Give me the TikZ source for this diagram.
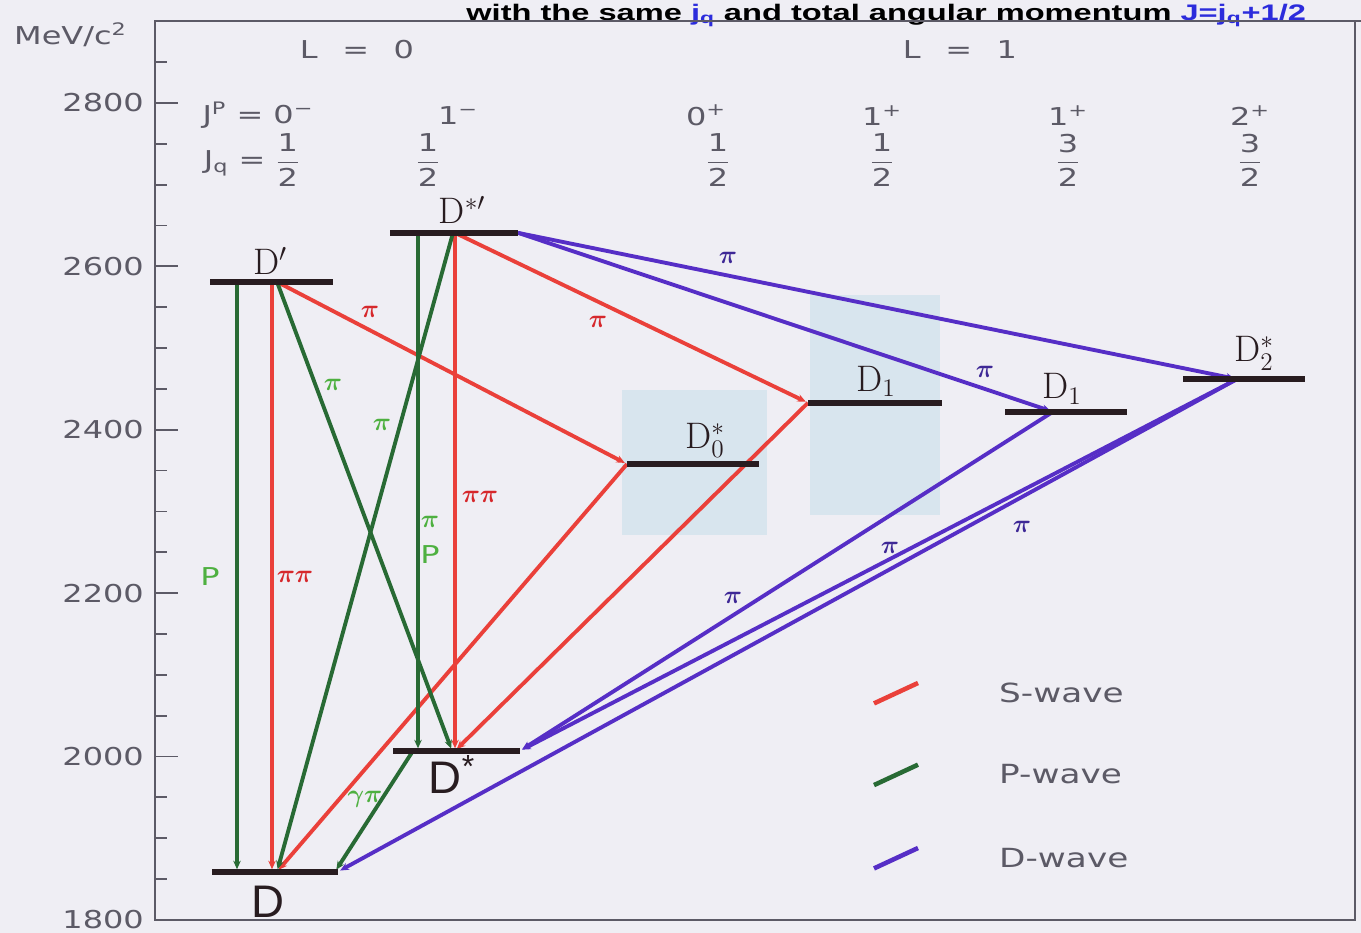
\documentclass[tikz,border=0pt]{standalone}
\usepackage{amsmath}
\usepackage{fontspec}
\usepackage{tikz}
\usetikzlibrary{arrows.meta,positioning,calc}
\newfontfamily\plotfont[FakeStretch=1.3]{DejaVu Sans}
\newfontfamily\titlefont{Liberation Sans}
\newfontfamily\headfont[FakeStretch=1.45]{Liberation Sans}
\definecolor{paper}{RGB}{239,238,244}
\definecolor{swave}{RGB}{234,64,58}
\definecolor{pwave}{RGB}{40,106,52}
\definecolor{dwave}{RGB}{86,46,198}
\definecolor{plab}{RGB}{78,176,64}
\definecolor{slab}{RGB}{214,40,44}
\definecolor{dlab}{RGB}{62,40,150}
\definecolor{bar}{RGB}{40,28,32}
\definecolor{axisgray}{RGB}{92,90,102}
\definecolor{band}{RGB}{216,229,238}
\definecolor{titleblue}{RGB}{44,44,220}
\newcommand{\hfrac}[2]{$\dfrac{\text{#1}}{\text{#2}}$}

\begin{document}
\begin{tikzpicture}[x=0.02cm,y=0.01634cm,
  lvl/.style={draw=bar,line width=3.4pt},
  trans/.style={line width=2.2pt,shorten >=1.4pt,-{Stealth[length=1.7mm,width=1.5mm]}},
  swv/.style={trans,draw=swave},
  pwv/.style={trans,draw=pwave},
  dwv/.style={trans,draw=dwave},
  lbl/.style={font=\plotfont\fontsize{14}{16}\selectfont,text=axisgray},
  pilab/.style={font=\fontsize{14}{14}\selectfont\boldmath},
  lvname/.style={font=\fontsize{21}{21}\selectfont,text=bar},
  sansname/.style={font=\titlefont\fontsize{26}{26}\selectfont,text=bar}]
\clip (0,1784.09) rectangle (1361,2926.07);
\fill[paper] (0,1784.09) rectangle (1361,2926.07);
\fill[band] (622,2271) rectangle (767,2449);
\fill[band] (810,2296) rectangle (940,2565);

\node[anchor=base west,inner sep=0pt,font=\headfont\bfseries\fontsize{12.8}{13}\selectfont] (title) at (466,2901.5)
  {with the same \textcolor{titleblue}{j\textsubscript{q}} and total angular momentum \textcolor{titleblue}{J=j\textsubscript{q}+1/2}};

\draw[axisgray,line width=1.2pt] (1361,2900)--(155,2900)--(155,1800)--(1355,1800)--(1355,2900);
\foreach \m in {1850,1900,...,2850} \draw[axisgray,line width=1pt] (155,\m)--(167,\m);
\foreach \m in {1800,2000,...,2800}{
  \draw[axisgray,line width=1pt] (155,\m)--(178,\m);
  \node[lbl,anchor=east] (tick\m) at (150,\m) {\m};
}
\node[lbl,anchor=west] (unit) at (8,2883) {MeV/c\textsuperscript{2}};

\node[lbl] (L0) at (357,2865) {L\hspace{14pt}=\hspace{14pt}0};
\node[lbl] (L1) at (960,2865) {L\hspace{14pt}=\hspace{14pt}1};
\node[lbl] (jp0) at (258,2785) {J\textsuperscript{P} = 0\textsuperscript{−}};
\node[lbl] (jq0) at (252,2730) {J\textsubscript{q} = \hfrac{1}{2}};
\foreach \x/\xq/\j/\p/\n in {458/428/1/−/1,706/718/0/+/1,882/882/1/+/1,1068/1068/1/+/3,1250/1250/2/+/3}{
  \node[lbl] (jp\x) at (\x,2785) {\j\textsuperscript{\p}};
  \node[lbl] (jq\x) at (\xq,2730) {\hfrac{\n}{2}};
}

\coordinate (Dp-a) at (237,2581);
\coordinate (Dp-b) at (272,2581);
\coordinate (Dp-c) at (277,2581);
\coordinate (Dsp-a) at (418,2641);
\coordinate (Dsp-b) at (453,2641);
\coordinate (Dsp-c) at (455,2641);
\coordinate (Dsp-r) at (518,2641);
\coordinate (Ds-a) at (418,2007);
\coordinate (Ds-b) at (452,2007);
\coordinate (Ds-c) at (455,2007);
\coordinate (Ds-d) at (413,2007);
\coordinate (Ds-r) at (520,2007);
\coordinate (D-a) at (237,1859);
\coordinate (D-b) at (272,1859);
\coordinate (D-c) at (277,1859);
\coordinate (D-d) at (335,1859);
\coordinate (D-r) at (338,1859);
\coordinate (Dz-l) at (627,2358);
\coordinate (Da-l) at (808,2433);
\coordinate (Db-m) at (1053,2422);
\coordinate (Dt-m) at (1237,2462);

\draw[dwv] (Dsp-r)--(Dt-m);
\draw[dwv] (Dsp-r)--(Db-m);
\draw[dwv] (Db-m)--(Ds-r);
\draw[dwv] (Dt-m)--(Ds-r);
\draw[dwv] (Dt-m)--(D-r);
\draw[swv] (Dp-b)--(D-b);
\draw[swv] (Dp-c)--(Dz-l);
\draw[swv] (Dsp-c)--(Ds-c);
\draw[swv] (Dsp-c)--(Da-l);
\draw[swv] (Dz-l)--(D-c);
\draw[swv] (Da-l)--(Ds-c);
\draw[pwv] (Dp-a)--(D-a);
\draw[pwv] (Dp-c)--(Ds-b);
\draw[pwv] (Dsp-b)--(D-c);
\draw[pwv] (Dsp-a)--(Ds-a);
\draw[pwv] (Ds-d)--(D-d);

\draw[lvl] (212,1859)--(338,1859);
\draw[lvl] (393,2007)--(520,2007);
\draw[lvl] (210,2581)--(333,2581);
\draw[lvl] (390,2641)--(518,2641);
\draw[lvl] (627,2358)--(759,2358);
\draw[lvl] (808,2433)--(942,2433);
\draw[lvl] (1005,2422)--(1127,2422);
\draw[lvl] (1183,2462)--(1305,2462);

\node[lvname] (nDp) at (270,2607) {D$^\prime$};
\node[lvname] (nDsp) at (462,2669) {D$^{*\prime}$};
\node[lvname] (nDz) at (705,2387) {D$_0^*$};
\node[lvname] (nDa) at (876,2459) {D$_1$};
\node[lvname] (nDb) at (1062,2450) {D$_1$};
\node[lvname] (nDt) at (1254,2493) {D$_2^*$};
\node[sansname] (nD) at (268,1822) {D};
\node[sansname] (nDs) at (452,1978) {D\textsuperscript{*}};

\node[pilab,text=slab] (piS1) at (370,2544) {$\pi$};
\node[pilab,text=slab] (piS2) at (598,2532) {$\pi$};
\node[pilab,text=slab] (piS3) at (295,2220) {$\pi\pi$};
\node[pilab,text=slab] (piS4) at (480,2318) {$\pi\pi$};
\node[pilab,text=plab] (piP1) at (333,2455) {$\pi$};
\node[pilab,text=plab] (piP2) at (382,2406) {$\pi$};
\node[pilab,text=plab] (piP3) at (430,2287) {$\pi$};
\node[lbl,text=plab] (pwP1) at (430,2247) {P};
\node[lbl,text=plab] (pwP2) at (210,2220) {P};
\node[pilab,text=plab] (piP4) at (365,1947) {$\gamma\pi$};
\node[pilab,text=dlab] (piD1) at (728,2610) {$\pi$};
\node[pilab,text=dlab] (piD2) at (985,2471) {$\pi$};
\node[pilab,text=dlab] (piD3) at (733,2194) {$\pi$};
\node[pilab,text=dlab] (piD4) at (890,2255) {$\pi$};
\node[pilab,text=dlab] (piD5) at (1022,2281) {$\pi$};

\foreach \c/\t/\m in {swave/S/2078,pwave/P/1978,dwave/D/1876}{
  \coordinate (lg\t a) at (874,\m-13);
  \coordinate (lg\t b) at (918,\m+12);
  \draw[\c,line width=2.6pt] (lg\t a)--(lg\t b);
  \node[lbl,anchor=west,font=\plotfont\fontsize{15}{15}\selectfont] (lg\t) at (993,\m) {\t-wave};
}
\end{tikzpicture}
\end{document}
